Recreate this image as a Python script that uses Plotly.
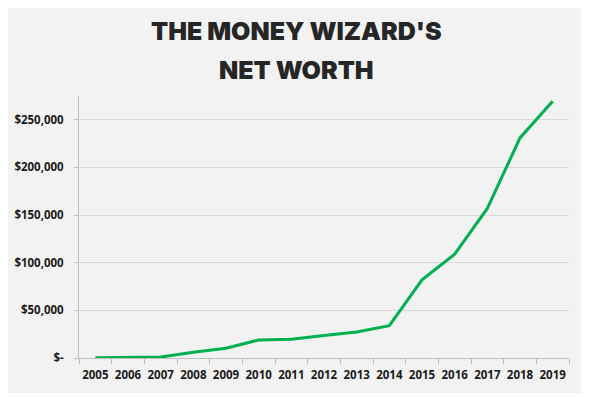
import plotly.graph_objects as go

years = [str(y) for y in range(2005, 2020)]
net_worth = [300, 300, 1000, 6000, 10200, 18900, 19800, 23600, 27400, 34000,
             82000, 109000, 157000, 231000, 269500]
y_tickvals = [0, 50000, 100000, 150000, 200000, 250000]
y_ticktext = ["$-", "$50,000", "$100,000", "$150,000", "$200,000", "$250,000"]
title_lines = ["THE MONEY WIZARD'S", "NET WORTH"]

W, H = 589, 397
O = 8  # page body offset
# desired plot area in window pixels
PL, PR, PT, PB = 79, 569, 96, 358
L, T = PL - O, PT - O
R, B = W - (PR - O), H - (PB - O)
ph = PB - PT
pw = PR - PL

def py(ypix):
    return (PB - ypix) / ph

def px(xpix):
    return (xpix - PL) / pw

fig = go.Figure()
fig.add_trace(go.Scatter(
    x=years, y=net_worth, mode="lines",
    line=dict(color="#00b050", width=3),
    hoverinfo="x+y",
))

tick_font = dict(family="'Open Sans', sans-serif", size=11.5, color="#1a1a1a", weight=700)

fig.update_layout(
    width=W, height=H,
    margin=dict(l=L, r=R, t=T, b=B, autoexpand=False),
    paper_bgcolor="#ffffff",
    plot_bgcolor="rgba(0,0,0,0)",
    showlegend=False,
    xaxis=dict(
        type="category", range=[-0.5, 14.5], automargin=False, tickangle=0,
        tickson="boundaries", ticks="outside", ticklen=5, tickcolor="#bfbfbf",
        showline=True, linecolor="#bfbfbf", linewidth=1,
        showgrid=False, zeroline=False,
        tickfont=tick_font, ticklabelstandoff=6,
    ),
    yaxis=dict(
        range=[0, 275000], automargin=False,
        tickvals=y_tickvals, ticktext=y_ticktext,
        ticks="outside", ticklen=4, tickcolor="#bfbfbf",
        showline=True, linecolor="#bfbfbf", linewidth=1,
        showgrid=True, gridcolor="#d9d9d9", gridwidth=1,
        zeroline=False,
        tickfont=tick_font, ticklabelstandoff=8,
    ),
    shapes=[dict(
        type="rect", xref="paper", yref="paper", layer="below",
        x0=px(O), x1=px(585), y0=py(393), y1=py(O),
        fillcolor="#f2f2f2", line=dict(width=0),
    )],
)

for text, ycen in zip(title_lines, [31, 70]):
    fig.add_annotation(
        text=text, xref="paper", yref="paper",
        x=px(296), y=py(ycen), xanchor="center", yanchor="middle",
        showarrow=False,
        font=dict(family="Inter, 'Open Sans', sans-serif", size=25, color="#262626", weight=900),
    )

fig.write_html("out.html")
